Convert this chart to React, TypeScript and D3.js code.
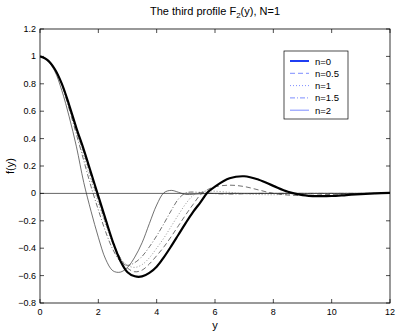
import React from "react";
import * as d3 from "d3";

// sample points along y (shared by all series)
const ys = [
  0, 0.25, 0.5, 0.75, 1, 1.25, 1.5, 1.75, 2, 2.25, 2.5, 2.75, 3, 3.25, 3.5,
  3.75, 4, 4.25, 4.5, 4.75, 5, 5.25, 5.5, 5.75, 6, 6.5, 7, 7.5, 8, 8.5, 9,
  9.5, 10, 10.5, 11, 11.5, 12,
];

// f(y) for each n
const n0 = [
  1.0, 0.975, 0.91, 0.8, 0.645, 0.475, 0.32, 0.15, -0.02, -0.19, -0.355,
  -0.49, -0.575, -0.605, -0.606, -0.58, -0.535, -0.465, -0.385, -0.3, -0.215,
  -0.135, -0.065, 0.008, 0.05, 0.11, 0.125, 0.1, 0.055, 0.012, -0.012, -0.02,
  -0.019, -0.012, -0.005, 0.0, 0.004,
];
const n05 = [
  1.0, 0.975, 0.91, 0.8, 0.64, 0.465, 0.3, 0.125, -0.045, -0.21, -0.355,
  -0.47, -0.545, -0.572, -0.56, -0.515, -0.455, -0.39, -0.315, -0.235, -0.155,
  -0.08, -0.01, 0.028, 0.048, 0.06, 0.05, 0.025, 0.0, -0.012, -0.015,
  -0.012, -0.007, -0.003, 0.0, 0.0, 0.0,
];
const n1 = [
  1.0, 0.975, 0.908, 0.795, 0.63, 0.45, 0.27, 0.095, -0.07, -0.23, -0.37,
  -0.47, -0.525, -0.54, -0.52, -0.47, -0.4, -0.325, -0.24, -0.155, -0.075,
  -0.015, 0.01, 0.018, 0.016, 0.008, -0.002, -0.008, -0.01, -0.006, -0.002,
  0.0, 0.0, 0.0, 0.0, 0.0, 0.0,
];
const n15 = [
  1.0, 0.975, 0.905, 0.79, 0.615, 0.43, 0.24, 0.05, -0.12, -0.28, -0.41,
  -0.495, -0.525, -0.505, -0.46, -0.39, -0.31, -0.22, -0.125, -0.04, 0.004,
  0.01, 0.006, 0.002, -0.002, -0.005, -0.003, 0.0, 0.0, 0.0, 0.0, 0.0, 0.0,
  0.0, 0.0, 0.0, 0.0,
];
const n2 = [
  1.0, 0.97, 0.895, 0.75, 0.56, 0.34, 0.08, -0.13, -0.32, -0.48, -0.565,
  -0.575, -0.54, -0.465, -0.36, -0.22, -0.085, 0.005, 0.022, 0.008, -0.008,
  -0.006, -0.003, 0.0, 0.0, 0.0, 0.0, 0.0, 0.0, 0.0, 0.0, 0.0, 0.0, 0.0,
  0.0, 0.0, 0.0,
];

const legendLabels = ["n=0", "n=0.5", "n=1", "n=1.5", "n=2"];
const xTicks = [0, 2, 4, 6, 8, 10, 12];
const yTicks = [-0.8, -0.6, -0.4, -0.2, 0, 0.2, 0.4, 0.6, 0.8, 1, 1.2];

const W = 398;
const H = 332;
const margin = { top: 29, right: 8, bottom: 29, left: 40 };
const font = "Liberation Sans, Arial, Helvetica, sans-serif";

const styles = [
  { width: 2.2, dash: "", color: "#000", legend: "#1f3df2", lw: 2 },
  { width: 0.7, dash: "5,3", color: "#333", legend: "#5c70ff", lw: 0.8 },
  { width: 0.7, dash: "1,2", color: "#666", legend: "#5c70ff", lw: 0.8 },
  { width: 0.7, dash: "5,2,1,2", color: "#333", legend: "#5c70ff", lw: 0.8 },
  { width: 0.7, dash: "", color: "#333", legend: "#5c70ff", lw: 0.8 },
];

const series = [n0, n05, n1, n15, n2];

export default function App() {
  const x = d3
    .scaleLinear()
    .domain([0, 12])
    .range([margin.left, W - margin.right]);
  const y = d3
    .scaleLinear()
    .domain([-0.8, 1.2])
    .range([H - margin.bottom, margin.top]);

  const line = d3
    .line<number>()
    .x((_, i) => x(ys[i]))
    .y((d) => y(d))
    .curve(d3.curveCatmullRom.alpha(0.5));

  const x0 = margin.left;
  const x1 = W - margin.right;
  const y0 = H - margin.bottom;
  const y1 = margin.top;
  const tick = 4;

  // legend box
  const lx = 284;
  const ly = 51;
  const lw = 64;
  const lh = 68;

  return (
    <div style={{ position: "absolute", left: 0, top: 0 }}>
      <svg width={W} height={H} style={{ display: "block", background: "#fff" }} fontFamily={font}>
        <rect x={0} y={0} width={W} height={H} fill="#fff" />
        <defs>
          <clipPath id="plot">
            <rect x={x0} y={y1} width={x1 - x0} height={y0 - y1} />
          </clipPath>
        </defs>

        {/* zero line */}
        <line x1={x0} x2={x1} y1={y(0)} y2={y(0)} stroke="#555" strokeWidth={0.9} />

        {/* curves */}
        <g clipPath="url(#plot)">
          {series
            .map((s, i) => ({ s, i }))
            .reverse()
            .map(({ s, i }) => (
              <path
                key={i}
                d={line(s) || ""}
                fill="none"
                stroke={styles[i].color}
                strokeWidth={styles[i].width}
                strokeDasharray={styles[i].dash || undefined}
                strokeLinejoin="round"
              />
            ))}
        </g>

        {/* frame */}
        <rect x={x0} y={y1} width={x1 - x0} height={y0 - y1} fill="none" stroke="#000" strokeWidth={0.8} />

        {/* x ticks */}
        {xTicks.map((t) => (
          <g key={"x" + t}>
            <line x1={x(t)} x2={x(t)} y1={y0} y2={y0 - tick} stroke="#000" strokeWidth={0.7} />
            <line x1={x(t)} x2={x(t)} y1={y1} y2={y1 + tick} stroke="#000" strokeWidth={0.7} />
            <text x={x(t)} y={y0 + 12} fontSize={9} textAnchor="middle" fill="#000">
              {t}
            </text>
          </g>
        ))}

        {/* y ticks */}
        {yTicks.map((t) => (
          <g key={"y" + t}>
            <line x1={x0} x2={x0 + tick} y1={y(t)} y2={y(t)} stroke="#000" strokeWidth={0.7} />
            <line x1={x1} x2={x1 - tick} y1={y(t)} y2={y(t)} stroke="#000" strokeWidth={0.7} />
            <text x={x0 - 4} y={y(t) + 3} fontSize={9} textAnchor="end" fill="#000">
              {t < 0 ? "\u2212" + Math.abs(t) : String(t)}
            </text>
          </g>
        ))}

        {/* labels */}
        <text x={(x0 + x1) / 2} y={15} fontSize={11} textAnchor="middle" fill="#000">
          The third profile F
          <tspan fontSize={8} dy={3}>2</tspan>
          <tspan dy={-3}>(y), N=1</tspan>
        </text>
        <text x={(x0 + x1) / 2} y={H - 3} fontSize={11} textAnchor="middle" fill="#000">
          y
        </text>
        <text
          transform={`translate(14,${(y0 + y1) / 2}) rotate(-90)`}
          fontSize={11}
          textAnchor="middle"
          fill="#000"
        >
          f(y)
        </text>

        {/* legend */}
        <rect x={lx} y={ly} width={lw} height={lh} fill="#fff" stroke="#000" strokeWidth={0.7} />
        {legendLabels.map((lab, i) => {
          const ry = ly + 10 + i * 12.3;
          return (
            <g key={lab}>
              <line
                x1={lx + 6}
                x2={lx + 25}
                y1={ry}
                y2={ry}
                stroke={styles[i].legend}
                strokeWidth={styles[i].lw}
                strokeDasharray={styles[i].dash || undefined}
              />
              <text x={lx + 31} y={ry + 3.5} fontSize={9.5} fill="#000">
                {lab}
              </text>
            </g>
          );
        })}
      </svg>
    </div>
  );
}
